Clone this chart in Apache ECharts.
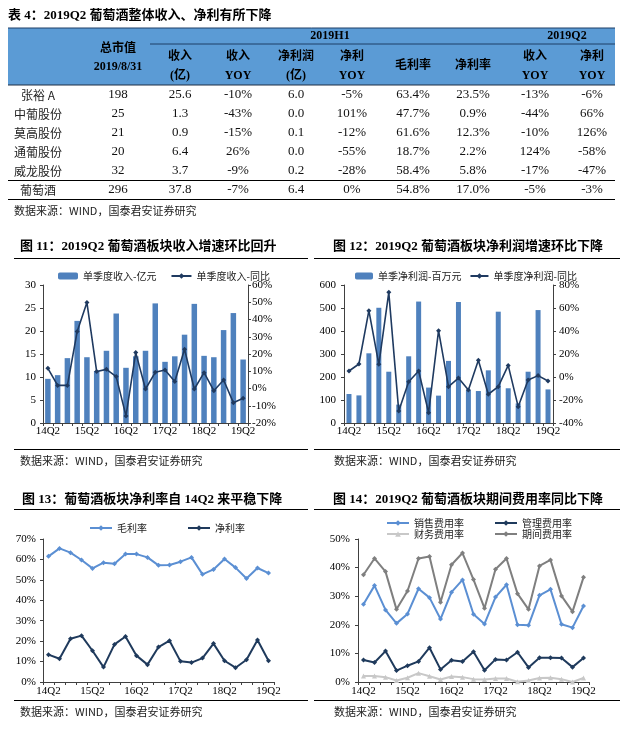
<!DOCTYPE html>
<html>
<head>
<meta charset="utf-8">
<script src="https://cdn.jsdelivr.net/npm/echarts@6/dist/echarts.min.js"></script>
<style>
html,body{margin:0;padding:0;background:#fff;}
#c{width:623px;height:730px;}
</style>
</head>
<body>
<div id="c"></div>
<script>
// ---------- table data ----------
const rowNames   = ['张裕 A','中葡股份','莫高股份','通葡股份','威龙股份','葡萄酒'];
const marketCap  = [198, 25, 21, 20, 32, 296];
const revH1      = [25.6, 1.3, 0.9, 6.4, 3.7, 37.8];
const revYoyH1   = [-10, -43, -15, 26, -9, -7];
const npH1       = [6.0, 0.0, 0.1, 0.0, 0.2, 6.4];
const npYoyH1    = [-5, 101, -12, -55, -28, 0];
const grossH1    = [63.4, 47.7, 61.6, 18.7, 58.4, 54.8];
const netH1      = [23.5, 0.9, 12.3, 2.2, 5.8, 17.0];
const revYoyQ2   = [-13, -44, -10, 124, -17, -5];
const npYoyQ2    = [-6, 66, 126, -58, -47, -3];

// ---------- chart data ----------
const quarters = ['14Q2','14Q3','14Q4','15Q1','15Q2','15Q3','15Q4','16Q1','16Q2','16Q3','16Q4',
                  '17Q1','17Q2','17Q3','17Q4','18Q1','18Q2','18Q3','18Q4','19Q1','19Q2'];
const qRevenue    = [9.6,10.4,14.1,22.2,14.3,11.3,15.7,23.8,12.0,14.5,15.7,26.0,13.3,14.5,19.2,25.9,14.6,14.3,20.2,23.9,13.8];
const qRevenueYoy = [11.7,1.8,1.8,33.0,49.8,9.8,11.1,6.9,-15.9,20.8,-0.3,9.4,10.7,4.0,22.7,-0.3,9.2,-1.3,4.9,-8.2,-5.7];
const qProfit     = [126,120,303,501,223,80,290,528,154,119,270,526,143,139,229,484,151,85,223,491,146];
const qProfitYoy  = [5.2,11.3,57.7,11.0,73.6,-29.6,-4.1,5.2,-31.0,40.3,-8.4,-0.9,-11.3,14.5,-15.0,-8.4,10.1,-25.8,-2.6,1.2,-3.5];
const grossMargin = [61.5,65.4,63.3,59.7,55.6,58.4,57.9,62.6,62.6,61.0,57.1,57.3,58.9,61.0,52.7,55.1,60.2,56.0,50.7,55.8,53.3];
const netMargin   = [13.4,11.4,21.2,22.7,15.3,7.3,18.4,22.3,12.9,8.5,17.1,20.2,10.1,9.5,11.7,18.8,10.4,7.0,10.9,20.6,10.4];
const salesRate   = [27.2,33.7,25.2,20.5,23.8,32.6,29.5,22.0,31.4,35.7,23.7,20.3,29.7,34.0,20.0,19.8,30.3,32.4,20.2,19.0,26.6];
const adminRate   = [7.7,6.8,10.8,4.0,5.7,7.2,12.0,4.4,7.6,7.2,10.6,4.1,7.9,7.7,10.4,5.1,8.5,8.5,8.4,5.2,8.4];
const financeRate = [2.1,2.1,1.7,0.5,1.5,3.1,2.0,0.9,1.9,1.7,1.0,0.9,1.2,1.2,0.1,0.5,1.4,1.5,1.0,0.0,1.4];
const periodRate  = [37.5,43.2,38.6,25.4,31.8,43.2,43.9,27.9,41.0,45.1,35.8,25.8,39.4,43.2,30.9,25.4,40.6,42.7,30.1,24.6,36.6];

const SERIF = "'Liberation Serif','Noto Sans CJK SC'";
const CJK = "'Noto Sans CJK SC'";
const C = echarts.init(document.getElementById('c'));

// ---------- graphic elements (table, titles, rules, sources) ----------
const g = [];
function txt(t, x, y, font, align, color) {
  g.push({type:'text', silent:true, style:{text:t, x:x, y:y, font:font,
    textAlign: align||'center', textVerticalAlign:'middle', align: align||'center', verticalAlign:'middle', fill: color||'#000'}});
}
function line(x1,y1,x2,y2,color,w){
  g.push({type:'line', silent:true, shape:{x1:x1,y1:y1,x2:x2,y2:y2}, style:{stroke:color||'#000', lineWidth:w||1}});
}
const pct = v => v + '%';
const f1 = v => v.toFixed(1);
const f1p = v => v.toFixed(1) + '%';

// table title
txt('表 4：2019Q2 葡萄酒整体收入、净利有所下降', 8, 16, "bold 13px " + SERIF, 'left');
// header band
g.push({type:'rect', silent:true, shape:{x:8, y:28, width:607, height:57}, style:{fill:'#5b9bd5'}});
line(8, 28, 615, 28, '#1f3f66', 1);
line(150, 44, 615, 44, '#1f3f66', 1);
line(8, 85, 615, 85, '#1f2f44', 1.2);
const HB = "bold 12px " + SERIF;
txt('2019H1', 330, 36, HB);
txt('2019Q2', 567, 36, HB);
txt('总市值', 118, 49, HB);
txt('2019/8/31', 118, 67, HB);
const colX = [38, 118, 180, 238, 296, 352, 413, 473, 535, 592];
const sub1 = ['收入','收入','净利润','净利', null, null, '收入','净利'];
const sub2 = ['(亿)','YOY','(亿)','YOY', null, null, 'YOY','YOY'];
for (let i = 0; i < sub1.length; i++) {
  const x = colX[i+2];
  if (sub1[i]) { txt(sub1[i], x, 57, HB); txt(sub2[i], x, 76, HB); }
}
txt('毛利率', colX[6], 66, HB);
txt('净利率', colX[7], 66, HB);
// body rows
const rowY = [95, 114, 133, 152, 171, 190];
const NB = "13px " + SERIF;
for (let r = 0; r < rowNames.length; r++) {
  const y = rowY[r];
  txt(rowNames[r], colX[0], y, "12px " + CJK, 'center', '#222');
  const vals = [marketCap[r], f1(revH1[r]), pct(revYoyH1[r]), f1(npH1[r]), pct(npYoyH1[r]),
                f1p(grossH1[r]), f1p(netH1[r]), pct(revYoyQ2[r]), pct(npYoyQ2[r])];
  vals.forEach((v, i) => txt(String(v), colX[i+1], y, NB, 'center', '#111'));
}
line(8, 180.5, 615, 180.5, '#000', 1.2);
line(8, 199.5, 615, 199.5, '#000', 1.2);
txt('数据来源：WIND，国泰君安证券研究', 14, 211, "11px " + CJK, 'left', '#222');

// chart titles and rules
const TB = "bold 13px " + SERIF;
txt('图 11：2019Q2 葡萄酒板块收入增速环比回升', 20, 247, TB, 'left');
txt('图 12：2019Q2 葡萄酒板块净利润增速环比下降', 333, 247, TB, 'left');
line(14, 258.5, 308, 258.5, '#000', 1);
line(314, 258.5, 620, 258.5, '#000', 1);
line(14, 449.5, 308, 449.5, '#000', 1);
line(314, 449.5, 620, 449.5, '#000', 1);
txt('数据来源：WIND，国泰君安证券研究', 20, 461, "11px " + CJK, 'left', '#222');
txt('数据来源：WIND，国泰君安证券研究', 334, 461, "11px " + CJK, 'left', '#222');

txt('图 13：葡萄酒板块净利率自 14Q2 来平稳下降', 22, 500, TB, 'left');
txt('图 14：2019Q2 葡萄酒板块期间费用率同比下降', 333, 500, TB, 'left');
line(14, 509.5, 308, 509.5, '#000', 1);
line(314, 509.5, 620, 509.5, '#000', 1);
line(14, 700.5, 308, 700.5, '#000', 1);
line(314, 700.5, 620, 700.5, '#000', 1);
txt('数据来源：WIND，国泰君安证券研究', 20, 712, "11px " + CJK, 'left', '#222');
txt('数据来源：WIND，国泰君安证券研究', 334, 712, "11px " + CJK, 'left', '#222');

// ---------- axes ----------
const AX = '#404040';
function xAx(gi, margin) {
  return {type:'category', gridIndex:gi, data:quarters, boundaryGap:true,
    axisLine:{lineStyle:{color:AX, width:1}},
    axisTick:{show:true, interval:0, length:3, lineStyle:{color:AX}},
    axisLabel:{interval:3, fontFamily:SERIF, fontSize:11, color:'#000', margin:margin},
    splitLine:{show:false}};
}
function yAx(gi, min, max, interval, fmt, pos, margin) {
  return {type:'value', gridIndex:gi, min:min, max:max, interval:interval, position:pos||'left',
    axisLine:{show:true, lineStyle:{color:AX, width:1}},
    axisTick:{show:true, length:3, lineStyle:{color:AX}},
    axisLabel:{formatter:fmt||'{value}', fontFamily:SERIF, fontSize:11, color:'#000', margin:margin},
    splitLine:{show:false}};
}
const legText = {fontFamily:CJK, fontSize:10, color:'#222'};

const option = {
  animation:false,
  backgroundColor:'#fff',
  graphic: g,
  grid:[
    {left:43, top:285, width:205, height:138},
    {left:344, top:285, width:209, height:138},
    {left:43, top:539, width:231, height:143},
    {left:358, top:539, width:231, height:143}
  ],
  xAxis:[xAx(0,3), xAx(1,3), xAx(2,4), xAx(3,4)],
  yAxis:[
    yAx(0, 0, 30, 5, '{value}', 'left', 7),
    yAx(0, -20, 60, 10, '{value}%', 'right', 4),
    yAx(1, 0, 600, 100, '{value}', 'left', 8),
    yAx(1, -40, 80, 20, '{value}%', 'right', 6),
    yAx(2, 0, 70, 10, '{value}%', 'left', 7),
    yAx(3, 0, 50, 10, '{value}%', 'left', 8)
  ],
  legend:[
    {left:53, top:266, itemWidth:20, itemHeight:7, itemGap:14, textStyle:legText,
     data:['单季度收入-亿元','单季度收入-同比']},
    {left:350, top:266, itemWidth:18, itemHeight:7, itemGap:8, textStyle:legText,
     data:['单季净利润-百万元','单季度净利润-同比']},
    {left:84, top:518, itemWidth:22, itemHeight:7, itemGap:40, textStyle:legText,
     data:['毛利率','净利率']},
    {left:381, top:513, itemWidth:22, itemHeight:7, itemGap:30, textStyle:legText,
     data:['销售费用率','管理费用率']},
    {left:381, top:524, itemWidth:22, itemHeight:7, itemGap:30, textStyle:legText,
     data:['财务费用率','期间费用率']}
  ],
  series:[
    {name:'单季度收入-亿元', type:'bar', xAxisIndex:0, yAxisIndex:0, data:qRevenue, barWidth:5.5,
     itemStyle:{color:'#4f81bd'}},
    {name:'单季度收入-同比', type:'line', xAxisIndex:0, yAxisIndex:1, data:qRevenueYoy,
     symbol:'diamond', symbolSize:5, lineStyle:{color:'#1f3a60', width:1.6}, itemStyle:{color:'#1f3a60'}},
    {name:'单季净利润-百万元', type:'bar', xAxisIndex:1, yAxisIndex:2, data:qProfit, barWidth:5,
     itemStyle:{color:'#4f81bd'}},
    {name:'单季度净利润-同比', type:'line', xAxisIndex:1, yAxisIndex:3, data:qProfitYoy,
     symbol:'diamond', symbolSize:5, lineStyle:{color:'#1f3a60', width:1.6}, itemStyle:{color:'#1f3a60'}},
    {name:'毛利率', type:'line', xAxisIndex:2, yAxisIndex:4, data:grossMargin,
     symbol:'diamond', symbolSize:5, lineStyle:{color:'#5b8fd3', width:2}, itemStyle:{color:'#5b8fd3'}},
    {name:'净利率', type:'line', xAxisIndex:2, yAxisIndex:4, data:netMargin,
     symbol:'diamond', symbolSize:5, lineStyle:{color:'#1f3a5c', width:2}, itemStyle:{color:'#1f3a5c'}},
    {name:'销售费用率', type:'line', xAxisIndex:3, yAxisIndex:5, data:salesRate,
     symbol:'diamond', symbolSize:5, lineStyle:{color:'#5b8fd3', width:2}, itemStyle:{color:'#5b8fd3'}},
    {name:'管理费用率', type:'line', xAxisIndex:3, yAxisIndex:5, data:adminRate,
     symbol:'diamond', symbolSize:5, lineStyle:{color:'#1f3a5c', width:2}, itemStyle:{color:'#1f3a5c'}},
    {name:'财务费用率', type:'line', xAxisIndex:3, yAxisIndex:5, data:financeRate,
     symbol:'triangle', symbolSize:5, lineStyle:{color:'#c8c8c8', width:2}, itemStyle:{color:'#c8c8c8'}},
    {name:'期间费用率', type:'line', xAxisIndex:3, yAxisIndex:5, data:periodRate,
     symbol:'diamond', symbolSize:5, lineStyle:{color:'#7f7f7f', width:2}, itemStyle:{color:'#7f7f7f'}}
  ]
};
C.setOption(option);
</script>
</body>
</html>
